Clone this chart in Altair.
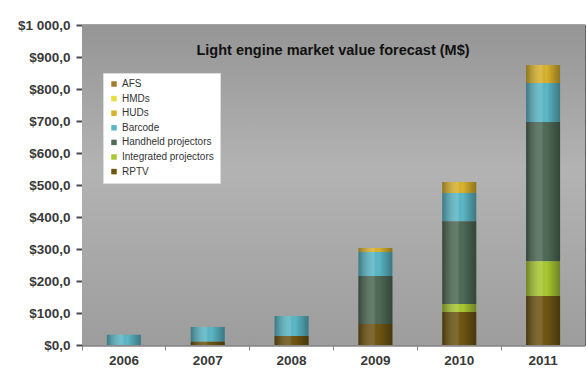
import altair as alt
import pandas as pd

years = ["2006", "2007", "2008", "2009", "2010", "2011"]
series = ["AFS", "HMDs", "HUDs", "Barcode", "Handheld projectors", "Integrated projectors", "RPTV"]
colors = ["#A47A2C", "#E6DE3C", "#D9B22E", "#5BB7C6", "#4F6A56", "#A9C832", "#6E5512"]
stack_rank = [7, 6, 5, 4, 3, 2, 1]  # 1 = bottom of stack

rptv = [0, 10, 28, 66, 103, 153]
integrated = [0, 0, 0, 0, 25, 109]
handheld = [0, 0, 0, 150, 259, 435]
barcode = [32, 46, 63, 75, 88, 122]
huds = [0, 0, 0, 12, 34, 56]
hmds = [0, 0, 0, 0, 0, 0]
afs = [0, 0, 0, 0, 0, 0]

y_ticks = [0, 100, 200, 300, 400, 500, 600, 700, 800, 900, 1000]
y_labels = ["$0,0", "$100,0", "$200,0", "$300,0", "$400,0", "$500,0",
            "$600,0", "$700,0", "$800,0", "$900,0", "$1 000,0"]
title_text = "Light engine market value forecast (M$)"

vals = {"AFS": afs, "HMDs": hmds, "HUDs": huds, "Barcode": barcode,
        "Handheld projectors": handheld, "Integrated projectors": integrated, "RPTV": rptv}
rows = []
for s, r in zip(series, stack_rank):
    for i, y in enumerate(years):
        rows.append({"year": y, "series": s, "value": vals[s][i], "rank": r})
df = pd.DataFrame(rows)
tot = pd.DataFrame({"year": years,
                    "total": [sum(vals[s][i] for s in series) for i in range(len(years))]})

label_map = "{" + ",".join(f"'{t}':'{l}'" for t, l in zip(y_ticks, y_labels)) + "}"

W, H = 503, 320

bg = alt.Chart(pd.DataFrame({"a": [0]})).mark_rect(
    color=alt.Gradient(gradient="linear", x1=0, x2=0, y1=0, y2=1,
                       stops=[alt.GradientStop(color="#959595", offset=0),
                              alt.GradientStop(color="#B3B3B3", offset=0.45),
                              alt.GradientStop(color="#9D9D9D", offset=1)])
).encode(x=alt.value(0), x2=alt.value(W), y=alt.value(0), y2=alt.value(H))

yscale = alt.Scale(domain=[0, 1000], nice=False)
xscale = alt.Scale(paddingInner=0.0, paddingOuter=0.0)
xaxis = alt.Axis(title=None, labelAngle=0, labelFontSize=13.5, labelFont="Arial",
                 labelFontWeight="bold", labelColor="#3a3a3a", domain=True,
                 domainColor="#888", ticks=True, tickColor="#888", tickSize=5,
                 labelPadding=3, grid=False, bandPosition=0)
yaxis = alt.Axis(title=None, values=y_ticks, labelExpr=f"{label_map}[datum.value]",
                 labelOverlap=False, labelFontSize=13.5, labelFont="Arial",
                 labelFontWeight="bold",
                 labelColor="#3a3a3a", grid=True, gridColor="#4a4a4a", gridWidth=2,
                 domain=False, ticks=True, tickColor="#4a4a4a", tickSize=6,
                 tickWidth=2, labelPadding=6)

bars = alt.Chart(df).mark_bar(size=34).encode(
    x=alt.X("year:N", sort=years, scale=xscale, axis=xaxis),
    y=alt.Y("value:Q", stack="zero", scale=yscale, axis=yaxis),
    color=alt.Color("series:N", scale=alt.Scale(domain=series, range=colors),
                    legend=alt.Legend(title=None, orient="none", legendX=21, legendY=48,
                                      fillColor="white", strokeColor="#dddddd", padding=6,
                                      symbolType="square", symbolSize=30, symbolStrokeWidth=0,
                                      labelFontSize=10, labelFont="Arial", labelColor="#333",
                                      rowPadding=4.6, labelOffset=3, labelLimit=200)),
    order=alt.Order("rank:Q", sort="ascending"),
)

shade = alt.Chart(tot).mark_bar(
    size=34,
    color=alt.Gradient(gradient="linear", x1=0, x2=1, y1=0, y2=0,
                       stops=[alt.GradientStop(color="rgba(0,0,0,0.35)", offset=0),
                              alt.GradientStop(color="rgba(255,255,255,0.12)", offset=0.45),
                              alt.GradientStop(color="rgba(0,0,0,0.0)", offset=0.6),
                              alt.GradientStop(color="rgba(0,0,0,0.35)", offset=1)])
).encode(x=alt.X("year:N", sort=years, scale=xscale, axis=xaxis),
         y=alt.Y("total:Q", scale=yscale, axis=yaxis))

title = alt.Chart(pd.DataFrame({"t": [title_text]})).mark_text(
    font="Arial", fontSize=14.5, fontWeight="bold", color="#111", baseline="alphabetic"
).encode(text="t:N", x=alt.value(251),
         y=alt.Y(datum=907, type="quantitative", scale=yscale, axis=yaxis))

chart = alt.layer(bg, bars, shade, title).properties(
    width=W, height=H, autosize=alt.AutoSizeParams(type="none"),
    padding={"left": 82, "top": 25, "right": 3, "bottom": 29},
    background="white"
).configure_view(stroke="#666", strokeWidth=1)

chart.save("out.html", embed_options={"renderer": "svg", "actions": False})
